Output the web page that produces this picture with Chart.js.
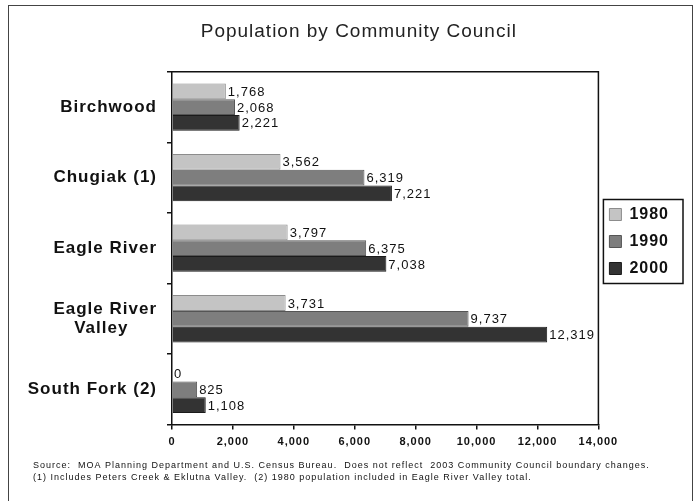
<!DOCTYPE html>
<html>
<head>
<meta charset="utf-8">
<script src="https://cdn.jsdelivr.net/npm/chart.js@4.4.1/dist/chart.umd.min.js"></script>
<style>
html,body{margin:0;padding:0;background:#fff;overflow:hidden;}
#wrap{position:relative;width:696px;height:501px;}
#frame{position:absolute;left:8px;top:5px;width:683px;height:520px;border:1px solid #444;pointer-events:none;}
canvas{position:absolute;left:0;top:0;}
</style>
</head>
<body>
<div id="wrap">
<canvas id="chart" width="696" height="501"></canvas>
<div id="frame"></div>
</div>
<script>
const councils=['Birchwood','Chugiak (1)','Eagle River',['Eagle River','Valley     '],'South Fork (2)'];
const years=['1980','1990','2000'];
const pop1980=[1768,3562,3797,3731,0];
const pop1990=[2068,6319,6375,9737,825];
const pop2000=[2221,7221,7038,12319,1108];
const xTicks=[0,2000,4000,6000,8000,10000,12000,14000];
const footnote=[
'  Source:  MOA Planning Department and U.S. Census Bureau.  Does not reflect  2003 Community Council boundary changes.',
'  (1) Includes Peters Creek & Eklutna Valley.  (2) 1980 population included in Eagle River Valley total.'
];

Chart.defaults.font.family='"Liberation Sans", Arial, sans-serif';
Chart.defaults.color='#111';

const spacing={
id:'spacing',
beforeLayout(chart){chart.ctx.letterSpacing='1px';},
beforeDraw(chart){chart.ctx.letterSpacing='1px';}
};

const extras={
id:'extras',
afterDatasetsDraw(chart){
const ctx=chart.ctx;
ctx.save();
ctx.font='13px "Liberation Sans", Arial, sans-serif';
ctx.fillStyle='#111';
ctx.textAlign='left';
ctx.textBaseline='middle';
chart.data.datasets.forEach((ds,i)=>{
chart.getDatasetMeta(i).data.forEach((bar,j)=>{
ctx.fillText(ds.data[j].toLocaleString('en-US'),bar.x+2,bar.y+1);
});
});
ctx.restore();
},
afterDraw(chart){
const ctx=chart.ctx;
const a=chart.chartArea;
ctx.save();
ctx.strokeStyle='#111';
ctx.lineWidth=1.5;
ctx.beginPath();
ctx.moveTo(a.left,a.top);
ctx.lineTo(a.right,a.top);
ctx.lineTo(a.right,a.bottom);
ctx.stroke();
// box round the legend
const hb=chart.legend.legendHitBoxes;
let x0=1e9,y0=1e9,x1=-1e9,y1=-1e9;
hb.forEach(h=>{
x0=Math.min(x0,h.left);y0=Math.min(y0,h.top);
x1=Math.max(x1,h.left+h.width);y1=Math.max(y1,h.top+h.height);
});
ctx.strokeRect(x0-6,y0-7,x1-x0+20,y1-y0+14);
ctx.restore();
}
};

new Chart(document.getElementById('chart'),{
type:'bar',
data:{
labels:councils,
datasets:[
{label:years[0],data:pop1980,backgroundColor:'#c4c4c4',borderColor:'#8c8c8c',borderWidth:1},
{label:years[1],data:pop1990,backgroundColor:'#7e7e7e',borderColor:'#555',borderWidth:1},
{label:years[2],data:pop2000,backgroundColor:'#333',borderColor:'#1a1a1a',borderWidth:1}
]
},
options:{
responsive:false,
animation:false,
indexAxis:'y',
categoryPercentage:0.67,
barPercentage:1,
layout:{padding:{left:26,right:17,top:0,bottom:18}},
plugins:{
title:{
display:true,
text:'  Population by Community Council',
font:{size:19,weight:'normal'},
color:'#222',
padding:{top:20,bottom:29}
},
subtitle:{
display:true,
position:'bottom',
align:'start',
text:footnote,
font:{size:9,lineHeight:1.3},
color:'#111',
padding:{top:7,bottom:0}
},
legend:{
position:'right',
labels:{
boxWidth:12,
boxHeight:12,
padding:11,
font:{size:16,weight:'bold',lineHeight:1},
color:'#111'
}
},
tooltip:{enabled:false}
},
scales:{
x:{
min:0,
max:14000,
afterBuildTicks(s){s.ticks=xTicks.map(v=>({value:v}));},
afterFit(s){s.height=28;},
ticks:{
font:{size:11,weight:'bold'},
color:'#111',
padding:6,
callback:v=>v.toLocaleString('en-US')
},
grid:{drawOnChartArea:false,tickLength:5,color:'#111',lineWidth:1.5},
border:{color:'#111',width:1.5}
},
y:{
afterFit(s){s.width=146;},
ticks:{font:{size:17,weight:'bold',lineHeight:1.1},color:'#111',padding:10},
grid:{offset:true,drawOnChartArea:false,tickLength:5,color:'#111',lineWidth:1.5},
border:{color:'#111',width:1.5}
}
}
},
plugins:[spacing,extras]
});
</script>
</body>
</html>
